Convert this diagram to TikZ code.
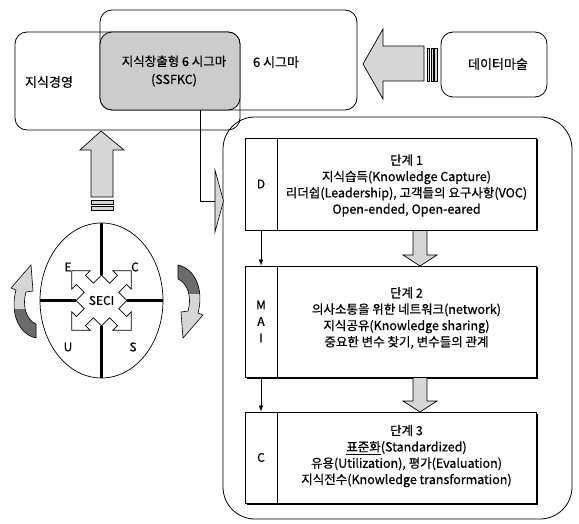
\documentclass[tikz,border=0pt]{standalone}
\usepackage{fontspec}
\setmainfont{Noto Sans CJK KR}[FakeBold=0.6]
\usetikzlibrary{calc,shapes.geometric,arrows.meta}
\definecolor{boxgray}{gray}{0.80}
\definecolor{arrowgray}{gray}{0.84}
\definecolor{darkfill}{gray}{0.42}
\begin{document}
\begin{tikzpicture}[x=1pt,y=-1pt,
  rbox/.style={draw, line width=0.8pt, rounded corners=12pt, inner sep=0pt},
  lbl/.style={font=\fontsize{13}{18}\selectfont, inner sep=0pt, align=center},
  letter/.style={font=\fontsize{12}{14}\selectfont, inner sep=0pt},
  stagetxt/.style={font=\fontsize{12.5}{16.3}\selectfont, align=center, inner sep=0pt},
  cell/.style={draw, line width=0.9pt, fill=white, inner sep=0pt},
  blockarrow/.style={draw, line width=0.7pt, fill=arrowgray},
  thinarrow/.style={line width=0.6pt, -{Latex[length=6pt,width=4.5pt]}},
  curvarr/.pic={
    \fill[arrowgray] (12,37) .. controls (-6,33) and (-14,11) .. (-8,-11) -- (-13,-13) -- (7,-36) -- (9,-10) -- (2,-9) .. controls (-2,4) and (2,19) .. (12,23) -- cycle;
    \begin{scope}
      \clip (12,37) .. controls (-6,33) and (-14,11) .. (-8,-11) -- (-13,-13) -- (7,-36) -- (9,-10) -- (2,-9) .. controls (-2,4) and (2,19) .. (12,23) -- cycle;
      \fill[darkfill] (-20,8) rectangle (20,40);
    \end{scope}
    \draw[line width=0.6pt] (12,37) .. controls (-6,33) and (-14,11) .. (-8,-11) -- (-13,-13) -- (7,-36) -- (9,-10) -- (2,-9) .. controls (-2,4) and (2,19) .. (12,23) -- cycle;
  }
]
\useasboundingbox (0,0) rectangle (579,524);

% ---- top boxes ----
\node[rbox, minimum width=225pt, minimum height=98pt] (km) at (127.5,81) {};
\node[rbox, minimum width=257pt, minimum height=100pt] (six) at (228.5,60) {};
\node[rbox, fill=boxgray, minimum width=140pt, minimum height=78pt] (ssf) at (170,71) {};
\node[lbl] (kmt) at (49,82) {지식경영};
\node[lbl] (sixt) at (276,62) {6 시그마};
\node[lbl, font=\fontsize{12.5}{18}\selectfont] (ssft) at (174,71) {지식창출형 6 시그마\\(SSFKC)};
\node[rbox, minimum width=106pt, minimum height=65pt] (data) at (494,64.5) {};
\node[lbl] (datat) at (498,64) {데이터마술};

% ---- left block arrow (data -> six sigma) ----
\draw[blockarrow] (363,64) -- (383,29) -- (383,46) -- (424,46) -- (424,81) -- (383,81) -- (383,99) -- cycle;
\draw[blockarrow, line width=0.6pt] (427,48) rectangle (429.5,81);
\draw[blockarrow, line width=0.6pt] (430.8,48) rectangle (433.3,81);
\draw[blockarrow, line width=0.6pt] (434.6,48) rectangle (437.1,81);

% ---- up block arrow (SECI -> km) ----
\draw[blockarrow] (101,131) -- (124,150) -- (113,150) -- (113,197) -- (91,197) -- (91,150) -- (80,150) -- cycle;
\draw[blockarrow, line width=0.6pt] (91,200) rectangle (113,204);
\draw[blockarrow, line width=0.6pt] (91,206.5) rectangle (113,210);

% ---- SECI ellipse ----
\node[draw, ellipse, line width=0.7pt, minimum width=123pt, minimum height=155pt, inner sep=0pt] (seci) at (101.5,300.5) {};
\coordinate (qt) at (101.5,275);
\coordinate (qb) at (101.5,326);
\coordinate (ql) at (76,300.5);
\coordinate (qr) at (127,300.5);
\draw[line width=3.2pt] (seci.north) -- (qt);
\draw[line width=3.2pt] (seci.south) -- (qb);
\draw[line width=3.2pt] (seci.west) -- (ql);
\draw[line width=3.2pt] (seci.east) -- (qr);
\begin{scope}[shift={(101.5,300.5)}, rotate=45]
\draw[fill=white, line width=0.7pt]
  (18,-18) -- (18,-6.5) -- (29,-6.5) -- (29,-13) -- (42,0) -- (29,13) -- (29,6.5) -- (18,6.5) -- (18,18)
  -- (6.5,18) -- (6.5,29) -- (13,29) -- (0,42) -- (-13,29) -- (-6.5,29) -- (-6.5,18) -- (-18,18)
  -- (-18,6.5) -- (-29,6.5) -- (-29,13) -- (-42,0) -- (-29,-13) -- (-29,-6.5) -- (-18,-6.5) -- (-18,-18)
  -- (-6.5,-18) -- (-6.5,-29) -- (-13,-29) -- (0,-42) -- (13,-29) -- (6.5,-29) -- (6.5,-18) -- cycle;
\end{scope}
\node[letter] (secit) at (101.5,300.5) {SECI};
\node[letter] (le) at (68,267) {E};
\node[letter] (lc) at (135,267) {C};
\node[letter] (lu) at (68,347) {U};
\node[letter] (ls) at (133,347) {S};

% ---- curved arrows ----
\pic at (24,301) {curvarr};
\pic[rotate=180] at (190,302) {curvarr};

% ---- big right box ----
\node[draw, line width=0.8pt, rounded corners=32pt, minimum width=349pt, minimum height=402pt, inner sep=0pt] (big) at (397.5,318) {};

% ---- connector ssf -> big ----
\coordinate (cs) at ($(ssf.south west)+(101,0)$);
\coordinate (ce) at (215,201);
\draw[line width=0.6pt] (cs) |- (ce);
\draw[line width=0.6pt, fill=arrowgray] (215,170) -- (223.5,201) -- (215,232) -- cycle;

% ---- stage shadows ----
\fill (246.5,139.5) rectangle (537.5,231.5);
\fill (246.5,267.5) rectangle (537.5,378.5);
\fill (246.5,413.5) rectangle (537.5,504.5);

% ---- stage boxes ----
\node[cell, minimum width=32pt, minimum height=92pt, letter] (d1) at (261,184) {D};
\node[cell, minimum width=259pt, minimum height=92pt] (t1) at (406.5,184) {};
\node[stagetxt] (s1) at (406.5,185.5) {단계 1\\지식습득(Knowledge Capture)\\리더쉽(Leadership), 고객들의 요구사항(VOC)\\Open-ended, Open-eared};

\node[cell, minimum width=32pt, minimum height=111pt, align=center, font=\fontsize{12}{16.5}\selectfont] (d2) at (261,321.5) {M\\A\\I};
\node[cell, minimum width=259pt, minimum height=111pt] (t2) at (406.5,321.5) {};
\node[stagetxt] (s2) at (406.5,318) {단계 2\\의사소통을 위한 네트워크(network)\\지식공유(Knowledge sharing)\\중요한 변수 찾기, 변수들의 관계};

\node[cell, minimum width=32pt, minimum height=91pt, letter] (d3) at (261,457.5) {C};
\node[cell, minimum width=259pt, minimum height=91pt] (t3) at (406.5,457.5) {};
\node[stagetxt] (s3) at (406.5,456) {단계 3\\\underline{표준화}(Standardized)\\유용(Utilization), 평가(Evaluation)\\지식전수(Knowledge transformation)};

% ---- thin arrows ----
\draw[thinarrow] (d1.south) -- (d2.north);
\draw[thinarrow] (d2.south) -- (d3.north);

% ---- gray down arrows ----
\draw[blockarrow] (413,230.5) -- (427,230.5) -- (427,255) -- (437,255) -- (420,266) -- (403,255) -- (413,255) -- cycle;
\draw[blockarrow] (413,377.5) -- (427,377.5) -- (427,401) -- (437,401) -- (420,412) -- (403,401) -- (413,401) -- cycle;
\end{tikzpicture}
\end{document}
